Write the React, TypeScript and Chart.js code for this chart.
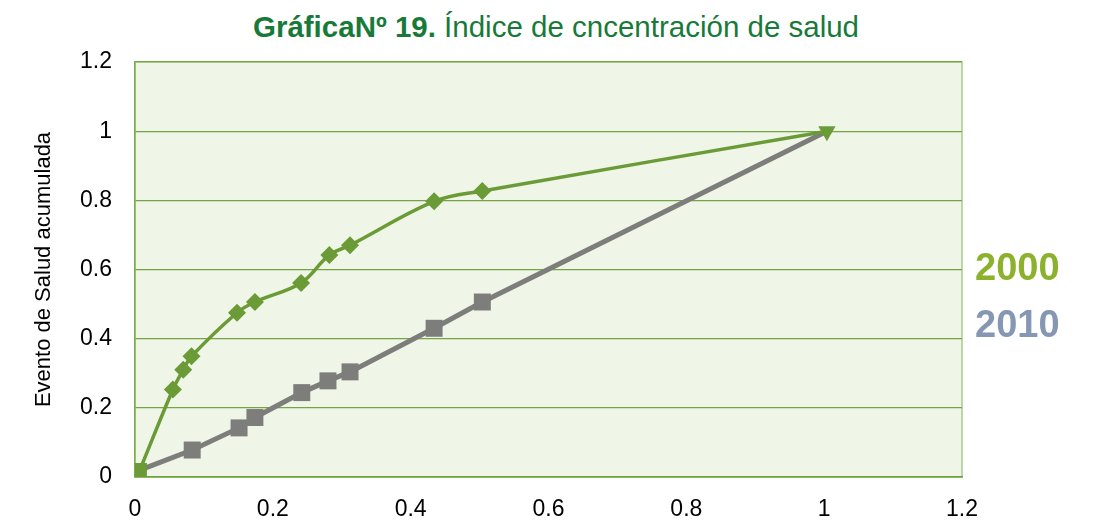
import React, { useEffect, useRef } from "react";
import { Chart, registerables } from "chart.js";

Chart.register(...registerables);

// ---- data ----
const titleBold = "GráficaNº 19.";
const titleRest = " Índice de cncentración de salud";
const yAxisTitle = "Evento de Salud acumulada";
const seriesNames = ["2000", "2010"];

const x2000 = [0.007, 0.055, 0.07, 0.082, 0.148, 0.174, 0.241, 0.282, 0.312, 0.434, 0.504, 1.004];
const y2000 = [0.02, 0.253, 0.31, 0.349, 0.475, 0.506, 0.561, 0.642, 0.67, 0.797, 0.827, 1.0];

const x2010 = [0.007, 0.083, 0.151, 0.174, 0.242, 0.28, 0.312, 0.434, 0.504, 1.004];
const y2010 = [0.02, 0.078, 0.142, 0.172, 0.244, 0.278, 0.304, 0.43, 0.506, 1.0];

const xTickLabels = ["0", "0.2", "0.4", "0.6", "0.8", "1", "1.2"];
const yTickLabels = ["0", "0.2", "0.4", "0.6", "0.8", "1", "1.2"];

const FONT = "'Liberation Sans', Arial, sans-serif";
const GREEN = "#6b9b37";
const GRAY = "#7d7d7b";

const plotBg = {
  id: "plotBg",
  beforeDraw(chart: any) {
    const { ctx, chartArea } = chart;
    if (!chartArea) return;
    ctx.save();
    ctx.fillStyle = "#eff5e7";
    ctx.fillRect(chartArea.left, chartArea.top, chartArea.right - chartArea.left, chartArea.bottom - chartArea.top);
    ctx.strokeStyle = "#a9c98c";
    ctx.lineWidth = 1.5;
    ctx.strokeRect(chartArea.left, chartArea.top, chartArea.right - chartArea.left, chartArea.bottom - chartArea.top);
    ctx.restore();
  },
};

export default function App() {
  const ref = useRef<HTMLCanvasElement | null>(null);

  useEffect(() => {
    if (!ref.current) return;
    const n2000 = x2000.length;
    const n2010 = x2010.length;
    const chart = new Chart(ref.current, {
      type: "line",
      data: {
        datasets: [
          {
            label: seriesNames[0],
            data: x2000.map((x, i) => ({ x, y: y2000[i] })),
            borderColor: GREEN,
            backgroundColor: GREEN,
            borderWidth: 3.5,
            tension: 0.35,
            pointStyle: x2000.map((_, i) => (i === 0 ? "rect" : i === n2000 - 1 ? "triangle" : "rectRot")) as any,
            pointRotation: x2000.map((_, i) => (i === n2000 - 1 ? 180 : 0)),
            pointRadius: x2000.map((_, i) => (i === 0 ? 10 : i === n2000 - 1 ? 10 : 9)),
            pointBorderWidth: 0,
            pointBackgroundColor: GREEN,
          },
          {
            label: seriesNames[1],
            data: x2010.map((x, i) => ({ x, y: y2010[i] })),
            borderColor: GRAY,
            backgroundColor: GRAY,
            borderWidth: 5,
            tension: 0,
            pointStyle: "rect",
            pointRadius: x2010.map((_, i) => (i === 0 || i === n2010 - 1 ? 0 : 12)),
            pointBorderWidth: 0,
            pointBackgroundColor: GRAY,
          },
        ],
      },
      options: {
        animation: false,
        responsive: false,
        maintainAspectRatio: false,
        layout: { padding: { top: 62, right: 131, left: 0, bottom: 0 } },
        plugins: {
          legend: { display: false },
          tooltip: { enabled: false },
          title: { display: false },
        },
        scales: {
          x: {
            type: "linear",
            min: 0,
            max: 1.2,
            ticks: {
              stepSize: 0.2,
              padding: 19,
              color: "#000",
              font: { family: FONT, size: 23 },
              callback: (_v: any, i: number) => xTickLabels[i],
            },
            grid: { display: false, drawTicks: false },
            border: { display: true, color: "#6fa23c", width: 1.5 },
            afterFit: (s: any) => {
              s.height = 46;
            },
          },
          y: {
            type: "linear",
            min: 0,
            max: 1.2,
            ticks: {
              stepSize: 0.2,
              padding: 23,
              color: "#000",
              font: { family: FONT, size: 23 },
              callback: (_v: any, i: number) => yTickLabels[i],
            },
            grid: { display: true, drawTicks: false, color: "#74a443", lineWidth: 1.3 },
            border: { display: true, color: "#7aab4a", width: 1.5 },
            title: {
              display: true,
              text: yAxisTitle,
              color: "#000",
              font: { family: FONT, size: 22 },
              padding: { top: 31, bottom: 0 },
            },
            afterFit: (s: any) => {
              s.width = 135;
            },
          },
        },
      },
      plugins: [plotBg],
    });
    return () => chart.destroy();
  }, []);

  return (
    <div style={{ position: "fixed", left: 0, top: 0, width: 1093, height: 523, background: "#fff", fontFamily: FONT }}>
      <div
        style={{
          position: "absolute",
          left: 556,
          top: 12,
          transform: "translateX(-50%)",
          whiteSpace: "nowrap",
          fontSize: 29.5,
          lineHeight: "29.5px",
          color: "#187a38",
        }}
      >
        <span style={{ fontWeight: "bold" }}>{titleBold}</span>
        <span>{titleRest}</span>
      </div>
      <canvas ref={ref} width={1093} height={523} style={{ position: "absolute", left: 0, top: 0 }} />
      <div
        style={{
          position: "absolute",
          left: 975,
          top: 248,
          fontSize: 38,
          lineHeight: "38px",
          fontWeight: "bold",
          color: "#8cb12c",
        }}
      >
        {seriesNames[0]}
      </div>
      <div
        style={{
          position: "absolute",
          left: 975,
          top: 305,
          fontSize: 38,
          lineHeight: "38px",
          fontWeight: "bold",
          color: "#8597b2",
        }}
      >
        {seriesNames[1]}
      </div>
    </div>
  );
}
